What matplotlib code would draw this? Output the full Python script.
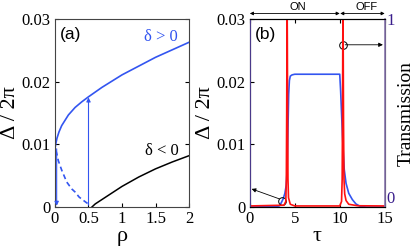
import matplotlib
matplotlib.use('Agg')
import matplotlib.pyplot as plt
import numpy as np

plt.rcParams['font.family'] = ['Liberation Serif', 'DejaVu Serif']
plt.rcParams['xtick.direction'] = 'in'
plt.rcParams['ytick.direction'] = 'in'

# panel (a): bistability curves
rho_up = [0.0, 0.01, 0.03, 0.06, 0.1, 0.2, 0.3, 0.4, 0.5, 0.7, 1.0, 1.25, 1.5, 1.75, 2.0]
d_up = [0.0093, 0.0100, 0.0110, 0.0120, 0.0130, 0.0147, 0.0159, 0.0168, 0.0176,
        0.0191, 0.0211, 0.0225, 0.0239, 0.0251, 0.0263]
rho_mid = [0.015, 0.025, 0.05, 0.1, 0.175, 0.25, 0.3, 0.36, 0.42, 0.47, 0.51]
d_mid = [0.0090, 0.0086, 0.0074, 0.0059, 0.0040, 0.0029, 0.0024, 0.0016, 0.0011, 0.0007, 0.0004]
rho_neg = [0.55, 0.6, 0.7, 0.8, 1.0, 1.25, 1.5, 1.75, 2.0]
d_neg = [0.0, 0.0005, 0.0012, 0.0019, 0.0033, 0.0048, 0.0061, 0.0072, 0.0082]

# panel (b): time traces
tau_b = [0, 3.0, 3.3, 3.5, 3.7, 3.9, 4.05, 4.15, 4.25, 4.32, 4.4, 4.5, 4.7, 5.0,
         10.0, 10.1, 10.2, 10.3, 10.4, 10.5, 10.7, 11.0, 11.4, 11.8, 12.3, 13, 15]
delta_b = [0, 0.0001, 0.0002, 0.0007, 0.0013, 0.0022, 0.0035, 0.0060, 0.0130, 0.0180,
           0.0202, 0.0209, 0.0211, 0.0212, 0.0212, 0.0185, 0.0150, 0.0115, 0.0085,
           0.0060, 0.0038, 0.0022, 0.0012, 0.0005, 0.0001, 0.0, 0.0]
tau_t = [0, 3.8, 4.0, 4.06, 4.1, 4.13, 4.15, 4.17, 4.2, 4.24, 4.3, 4.5, 5.0,
         10.0, 10.2, 10.27, 10.31, 10.34, 10.36, 10.38, 10.42, 10.47, 10.55, 10.7, 11.0, 12.0, 15]
trans = [0.006, 0.01, 0.03, 0.15, 0.5, 0.9, 1.05, 0.9, 0.5, 0.15, 0.05, 0.015, 0.006,
         0.006, 0.03, 0.15, 0.5, 0.9, 1.05, 0.9, 0.45, 0.15, 0.07, 0.035, 0.015, 0.007, 0.006]

blue = '#3355f0'
red = '#ff1010'

fig = plt.figure(figsize=(4.15, 2.48), dpi=100)

# ---------- (a)
ax1 = fig.add_axes([0.1325, 0.165, 0.323, 0.758])
ax1.plot(rho_up, d_up, color=blue, lw=1.2)
ax1.plot(rho_mid, d_mid, color=blue, lw=1.2, ls=(0, (3, 2)))
ax1.plot(rho_neg, d_neg, color='black', lw=1.1)
ax1.annotate('', xy=(0.025, 0.0002), xytext=(0.025, 0.0093),
             arrowprops=dict(arrowstyle='-|>', color=blue, lw=0.8, mutation_scale=6, shrinkA=0, shrinkB=0))
ax1.annotate('', xy=(0.5, 0.0175), xytext=(0.5, 0.0003),
             arrowprops=dict(arrowstyle='-|>', color=blue, lw=0.8, mutation_scale=6, shrinkA=0, shrinkB=0))
ax1.text(1.58, 0.0272, 'δ > 0', color=blue, fontsize=12, ha='center', va='center')
ax1.text(1.6, 0.0090, 'δ < 0', color='black', fontsize=12, ha='center', va='center')
ax1.text(0.08, 0.0276, '(a)', fontsize=12.5, family='Liberation Sans', va='center')
ax1.set_xlim(0, 2)
ax1.set_ylim(0, 0.03)
ax1.set_xticks([0, 0.5, 1, 1.5, 2])
ax1.set_xticklabels(['0', '0.5', '1', '1.5', '2'])
ax1.set_yticks([0, 0.01, 0.02, 0.03])
ax1.set_yticklabels(['0', '0.01', '0.02', '0.03'])
ax1.tick_params(labelsize=12, length=3, right=True, pad=3)
ax1.set_xlabel('ρ', fontsize=16, labelpad=0)
ax1.set_ylabel('Δ / 2π', fontsize=16, labelpad=1)
for s in ax1.spines.values():
    s.set_color('#444444')

# ---------- (b)
ax2 = fig.add_axes([0.602, 0.165, 0.325, 0.758])
ax2.plot(tau_b, delta_b, color=blue, lw=1.2)
ax2.set_xlim(0, 15)
ax2.set_ylim(0, 0.03)
ax2.set_xticks([0, 5, 10, 15])
ax2.set_yticks([0, 0.01, 0.02, 0.03])
ax2.set_yticklabels(['0', '0.01', '0.02', '0.03'])
ax2.tick_params(labelsize=12, length=3, right=True, top=True, pad=3)
ax2.set_xlabel('τ', fontsize=16, labelpad=0)
ax2.set_ylabel('Δ / 2π', fontsize=16, labelpad=1)
ax2.text(0.55, 0.0276, '(b)', fontsize=12.5, family='Liberation Sans', va='center')

ax3 = ax2.twinx()
ax3.plot(tau_t, trans, color=red, lw=1.2, clip_on=True)
ax3.set_ylim(0, 1)
ax3.set_yticks([0, 1])
ax3.set_yticklabels(['0', '1'])
ax3.tick_params(labelsize=12, length=0, pad=1, labelcolor='#3a1e8c')
ax3.get_yticklabels()[0].set_va('bottom')
ax3.set_ylabel('Transmission', fontsize=14, labelpad=2)
ax3.spines['right'].set_color('#8a78b0')
ax3.spines['left'].set_color('#4a3a8a')
ax3.spines['right'].set_linewidth(1.2)

# circles and arrows
ax2.plot([3.55], [0.001], 'o', mfc='none', mec='black', ms=5.5, mew=0.7)
ax2.annotate('', xy=(0.2, 0.0029), xytext=(3.3, 0.0013),
             arrowprops=dict(arrowstyle='-|>', color='black', lw=0.6, mutation_scale=6, shrinkA=0, shrinkB=0))
ax2.plot([10.35], [0.0259], 'o', mfc='none', mec='black', ms=5.5, mew=0.7)
ax2.annotate('', xy=(14.8, 0.0259), xytext=(10.6, 0.0259),
             arrowprops=dict(arrowstyle='-|>', color='black', lw=0.6, mutation_scale=6, shrinkA=0, shrinkB=0))

# ON / OFF arrows above
ax2.annotate('', xy=(0, 1.03), xytext=(10, 1.03), xycoords=('data', 'axes fraction'),
             textcoords=('data', 'axes fraction'), annotation_clip=False,
             arrowprops=dict(arrowstyle='<|-|>', color='black', lw=0.6, mutation_scale=5, shrinkA=0, shrinkB=0))
ax2.annotate('', xy=(10.05, 1.03), xytext=(15, 1.03), xycoords=('data', 'axes fraction'),
             textcoords=('data', 'axes fraction'), annotation_clip=False,
             arrowprops=dict(arrowstyle='<|-|>', color='black', lw=0.6, mutation_scale=5, shrinkA=0, shrinkB=0))
ax2.text(5.3, 1.04, 'ON', transform=ax2.get_xaxis_transform(), fontsize=8,
         family='Liberation Sans', ha='center', va='bottom')
ax2.text(13.0, 1.04, 'OFF', transform=ax2.get_xaxis_transform(), fontsize=8,
         family='Liberation Sans', ha='center', va='bottom')

plt.savefig('out.png', dpi=100)
